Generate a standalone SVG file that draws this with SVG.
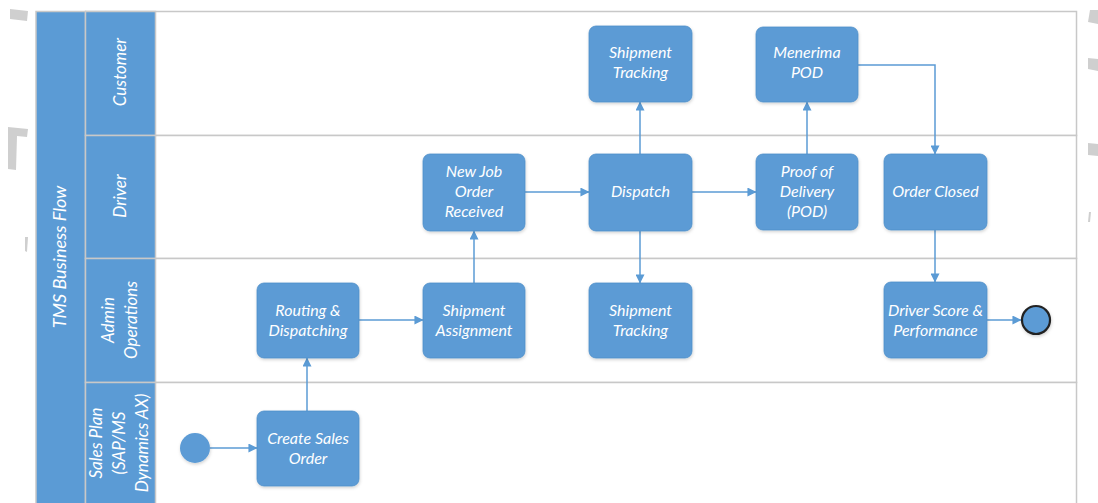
<svg xmlns="http://www.w3.org/2000/svg" width="1098" height="503" viewBox="0 0 1098 503">
  <style>
    .lane { fill: #ffffff; stroke: #c8c8c8; stroke-width: 1.5; }
    .hdr { fill: #5b9bd5; stroke: #c8c8c8; stroke-width: 1.5; }
    .hdrtxt { fill: #ffffff; font-family: Lato, "Open Sans", sans-serif; font-style: italic; font-size: 17px; text-anchor: middle; }
    .title { font-size: 18px; }
    .task rect { fill: #5b9bd5; stroke: #4f8fc9; stroke-width: 0.8; filter: url(#shadow); }
    .task text { fill: #ffffff; font-family: Lato, "Open Sans", sans-serif; font-style: italic; font-size: 16px; text-anchor: middle; }
    .flow { fill: none; stroke: #5b9bd5; stroke-width: 1.5; marker-end: url(#arrow); }
    .mark { fill: #cfcfcf; }
  </style>
  <defs>
    <marker id="arrow" viewBox="0 0 10 10" refX="9.5" refY="5" markerWidth="6" markerHeight="6" orient="auto" markerUnits="strokeWidth">
      <path d="M0,0 L10,5 L0,10 Z" fill="#5b9bd5"/>
    </marker>
    <filter id="shadow" x="-10%" y="-10%" width="125%" height="130%">
      <feDropShadow dx="0.5" dy="1.5" stdDeviation="1.5" flood-color="#000000" flood-opacity="0.18"/>
    </filter>
  </defs>

  <rect width="1098" height="503" fill="#ffffff"/>

  <!-- faint background marks at the page edges -->
  <g id="edge-marks">
    <polygon class="mark" points="10,9 28,11 27,21 10,19"/>
    <polygon class="mark" points="8,127 28,129 27,137 17,136 16,170 8,169"/>
    <polygon class="mark" points="25,237 28,237 27,252 25,251"/>
    <polygon class="mark" points="1090,10 1098,10 1098,24 1088,22"/>
    <polygon class="mark" points="1088,58 1098,59 1098,71 1088,69"/>
    <polygon class="mark" points="1088,143 1098,144 1098,156 1088,155"/>
    <polygon class="mark" points="1089,212 1091,212 1090,222 1088,222"/>
  </g>

  <!-- pool and lanes -->
  <g id="pool">
    <rect class="lane" x="85.5" y="11.5" width="991" height="124"/>
    <rect class="lane" x="85.5" y="135.5" width="991" height="123"/>
    <rect class="lane" x="85.5" y="258.5" width="991" height="124"/>
    <rect class="lane" x="85.5" y="382.5" width="991" height="130"/>
    <rect class="hdr" x="36" y="11.5" width="49.5" height="510"/>
    <rect class="hdr" x="85.5" y="11.5" width="70" height="124"/>
    <rect class="hdr" x="85.5" y="135.5" width="70" height="123"/>
    <rect class="hdr" x="85.5" y="258.5" width="70" height="124"/>
    <rect class="hdr" x="85.5" y="382.5" width="70" height="130"/>
    <text class="hdrtxt title" transform="translate(66,257) rotate(-90)">TMS Business Flow</text>
    <text class="hdrtxt" transform="translate(126,72) rotate(-90)">Customer</text>
    <text class="hdrtxt" transform="translate(126,196) rotate(-90)">Driver</text>
    <text class="hdrtxt" transform="translate(114,320) rotate(-90)">Admin</text>
    <text class="hdrtxt" transform="translate(137,320) rotate(-90)">Operations</text>
    <text class="hdrtxt" transform="translate(102,443) rotate(-90)">Sales Plan</text>
    <text class="hdrtxt" transform="translate(125,443) rotate(-90)">(SAP/MS</text>
    <text class="hdrtxt" transform="translate(148,443) rotate(-90)">Dynamics AX)</text>
  </g>

  <!-- connectors -->
  <g id="connectors">
    <path class="flow" d="M210,448 H257"/>
    <path class="flow" d="M307,411 V358"/>
    <path class="flow" d="M359,320 H423"/>
    <path class="flow" d="M474,283 V231"/>
    <path class="flow" d="M525,192 H589"/>
    <path class="flow" d="M640,154 V102"/>
    <path class="flow" d="M640,231 V283"/>
    <path class="flow" d="M692,192 H756"/>
    <path class="flow" d="M807,154 V102"/>
    <path class="flow" d="M858,65 H935 V154"/>
    <path class="flow" d="M935,230 V282"/>
    <path class="flow" d="M987,320 H1021"/>
  </g>

  <!-- events -->
  <g id="start">
    <circle cx="195" cy="448" r="15" fill="#5b9bd5" filter="url(#shadow)"/>
  </g>
  <g id="end">
    <circle cx="1036" cy="320" r="14" fill="#5b9bd5" stroke="#222222" stroke-width="2.2" filter="url(#shadow)"/>
  </g>

  <!-- tasks -->
  <g id="shipment-tracking-customer" class="task">
    <rect x="589" y="26" width="103" height="76" rx="7"/>
    <text x="640.5" y="58">Shipment</text>
    <text x="640.5" y="78">Tracking</text>
  </g>
  <g id="menerima-pod" class="task">
    <rect x="756" y="27" width="102" height="75" rx="7"/>
    <text x="807" y="58">Menerima</text>
    <text x="807" y="78">POD</text>
  </g>
  <g id="new-job-order" class="task">
    <rect x="423" y="154" width="102" height="77" rx="7"/>
    <text x="474" y="177">New Job</text>
    <text x="474" y="197">Order</text>
    <text x="474" y="217">Received</text>
  </g>
  <g id="dispatch" class="task">
    <rect x="589" y="154" width="103" height="77" rx="7"/>
    <text x="640.5" y="197">Dispatch</text>
  </g>
  <g id="proof-of-delivery" class="task">
    <rect x="756" y="154" width="102" height="76" rx="7"/>
    <text x="807" y="177">Proof of</text>
    <text x="807" y="197">Delivery</text>
    <text x="807" y="217">(POD)</text>
  </g>
  <g id="order-closed" class="task">
    <rect x="884" y="154" width="103" height="76" rx="7"/>
    <text x="935.5" y="197">Order Closed</text>
  </g>
  <g id="routing-dispatching" class="task">
    <rect x="257" y="283" width="102" height="75" rx="7"/>
    <text x="308" y="316">Routing &amp;</text>
    <text x="308" y="336">Dispatching</text>
  </g>
  <g id="shipment-assignment" class="task">
    <rect x="423" y="283" width="102" height="75" rx="7"/>
    <text x="474" y="316">Shipment</text>
    <text x="474" y="336">Assignment</text>
  </g>
  <g id="shipment-tracking-admin" class="task">
    <rect x="589" y="283" width="103" height="75" rx="7"/>
    <text x="640.5" y="316">Shipment</text>
    <text x="640.5" y="336">Tracking</text>
  </g>
  <g id="driver-score" class="task">
    <rect x="884" y="282" width="103" height="76" rx="7"/>
    <text x="935.5" y="316">Driver Score &amp;</text>
    <text x="935.5" y="336">Performance</text>
  </g>
  <g id="create-sales-order" class="task">
    <rect x="257" y="411" width="102" height="75" rx="7"/>
    <text x="308" y="444">Create Sales</text>
    <text x="308" y="464">Order</text>
  </g>
</svg>
